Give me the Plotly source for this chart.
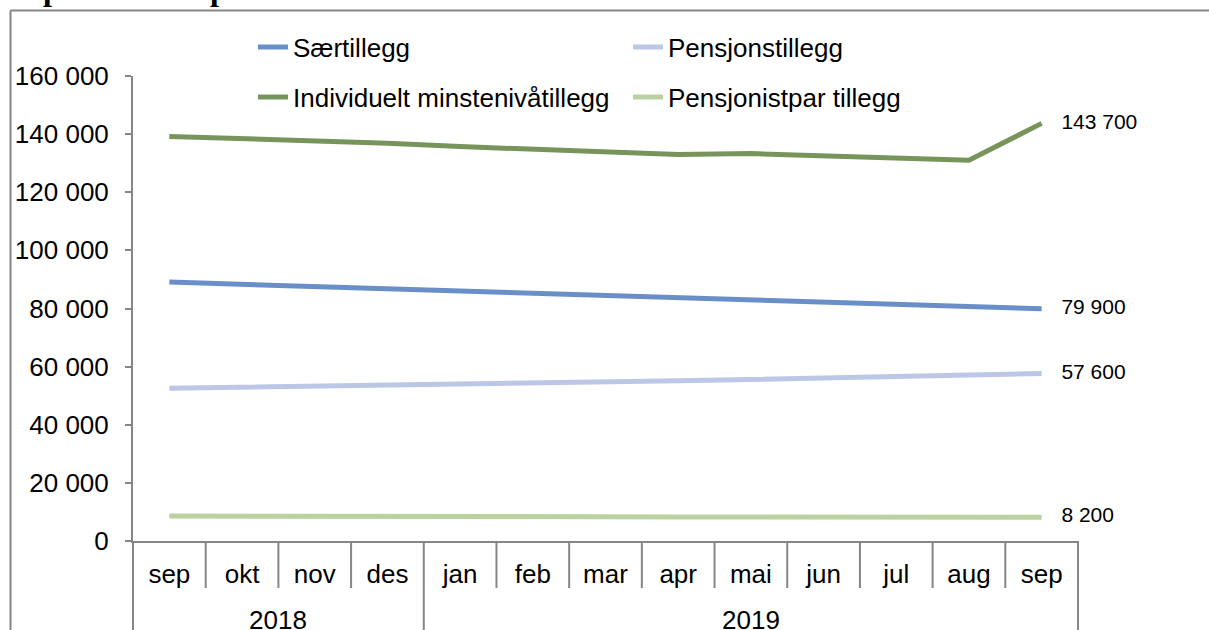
import plotly.graph_objects as go

months = ["sep", "okt", "nov", "des", "jan", "feb", "mar", "apr", "mai", "jun", "jul", "aug", "sep"]
years = ["2018"] * 4 + ["2019"] * 9

saertillegg = [89100, 88300, 87500, 86800, 86000, 85200, 84500, 83700, 82900, 82200, 81400, 80600, 79900]
pensjonstillegg = [52600, 52900, 53300, 53700, 53800, 54200, 54700, 55100, 55600, 56000, 56500, 56900, 57600]
individuelt = [139200, 138500, 137600, 136900, 135700, 134800, 134000, 133000, 133300, 132600, 132000, 131000, 143700]
pensjonistpar = [8600, 8500, 8500, 8400, 8400, 8400, 8300, 8300, 8300, 8300, 8200, 8200, 8200]

series = [
    ("Særtillegg", saertillegg, "#6a8fc8", "legend"),
    ("Pensjonstillegg", pensjonstillegg, "#bcc6e6", "legend"),
    ("Individuelt minstenivåtillegg", individuelt, "#77955a", "legend2"),
    ("Pensjonistpar tillegg", pensjonistpar, "#b9d2a0", "legend2"),
]

FONT = "Liberation Sans, Arial, sans-serif"
GREY = "#868686"

W, H = 1209, 630
ML, MR, MT, MB = 133, 131, 76, 89
PW = W - ML - MR
PH = H - MT - MB

def fmt(v):
    return f"{v:,}".replace(",", " ")

n = len(months)
xs = list(range(n))

fig = go.Figure()
for name, vals, col, leg in series:
    fig.add_trace(go.Scatter(
        x=xs, y=vals, name=name, legend=leg,
        mode="lines+markers+text",
        line=dict(color=col, width=5),
        marker=dict(size=[0] * (n - 1) + [30], color="rgba(0,0,0,0)", line=dict(width=0)),
        text=[""] * (n - 1) + [fmt(vals[-1])],
        textposition="middle right",
        textfont=dict(family=FONT, size=21, color="black"),
        cliponaxis=False,
        hoverinfo="x+y+name",
    ))

shapes = []
annotations = []
# dividers below the x axis: long at year boundaries, short between months
for i in range(n + 1):
    xp = i / n
    is_year_edge = i == 0 or i == n or years[i] != years[i - 1]
    y1 = -0.3 if is_year_edge else -47 / PH
    shapes.append(dict(type="line", xref="paper", yref="paper", x0=xp, x1=xp,
                       y0=0, y1=y1, line=dict(color=GREY, width=2)))
# year labels centred under their months
for yr in dict.fromkeys(years):
    idx = [i for i, y in enumerate(years) if y == yr]
    annotations.append(dict(text=yr, xref="x", yref="paper", x=sum(idx) / len(idx),
                            y=-(620 - (H - MB)) / PH, yanchor="middle", showarrow=False,
                            font=dict(family=FONT, size=26, color="black")))
# outer frame (top and left)
fx = (10.5 - ML) / PW
fy = 1 + (MT - 10.5) / PH
shapes.append(dict(type="line", xref="paper", yref="paper", x0=fx, x1=1.3, y0=fy, y1=fy,
                   line=dict(color=GREY, width=2)))
shapes.append(dict(type="line", xref="paper", yref="paper", x0=fx, x1=fx, y0=fy, y1=-0.3,
                   line=dict(color=GREY, width=2)))
# title (mostly above the visible area, as in the reference)
annotations.append(dict(
    text="<b>Sept. 2018 – sept. 2019</b>", xref="paper", yref="paper",
    x=(9 - ML) / PW, xanchor="left", y=1 + (MT - 9.5) / PH, yanchor="bottom",
    showarrow=False, font=dict(family="Liberation Serif, Times New Roman, serif", size=32, color="black"),
))

fig.update_layout(
    width=W, height=H,
    margin=dict(l=ML, r=MR, t=MT, b=MB),
    paper_bgcolor="white", plot_bgcolor="white",
    separators=", ",
    font=dict(family=FONT, size=26, color="black"),
    shapes=shapes,
    annotations=annotations,
    showlegend=True,
    legend=dict(orientation="h", x=(253 - ML) / PW, xanchor="left",
                y=1 + (MT - 47) / PH, yanchor="middle",
                entrywidth=330, bgcolor="rgba(0,0,0,0)",
                font=dict(family=FONT, size=26, color="black")),
    legend2=dict(orientation="h", x=(253 - ML) / PW, xanchor="left",
                 y=1 - (97 - MT) / PH, yanchor="middle",
                 entrywidth=330, bgcolor="rgba(0,0,0,0)",
                 font=dict(family=FONT, size=26, color="black")),
)

fig.update_xaxes(
    range=[-0.5, n - 0.5],
    tickmode="array", tickvals=xs, ticktext=months,
    showline=True, linecolor=GREY, linewidth=2,
    ticks="outside", ticklen=9, tickcolor="rgba(0,0,0,0)",
    showgrid=False, zeroline=False,
    tickfont=dict(family=FONT, size=26, color="black"),
)
fig.update_yaxes(
    range=[0, 160000], dtick=20000, tickformat=",d",
    showline=True, linecolor=GREY, linewidth=2,
    ticks="outside", ticklen=6, tickcolor=GREY, tickwidth=2,
    ticklabelstandoff=11,
    showgrid=False, zeroline=False,
    tickfont=dict(family=FONT, size=26, color="black"),
)

fig.write_html("out.html", config={"displayModeBar": False},
               post_script="document.body.style.margin='0';document.body.style.overflow='hidden';")
